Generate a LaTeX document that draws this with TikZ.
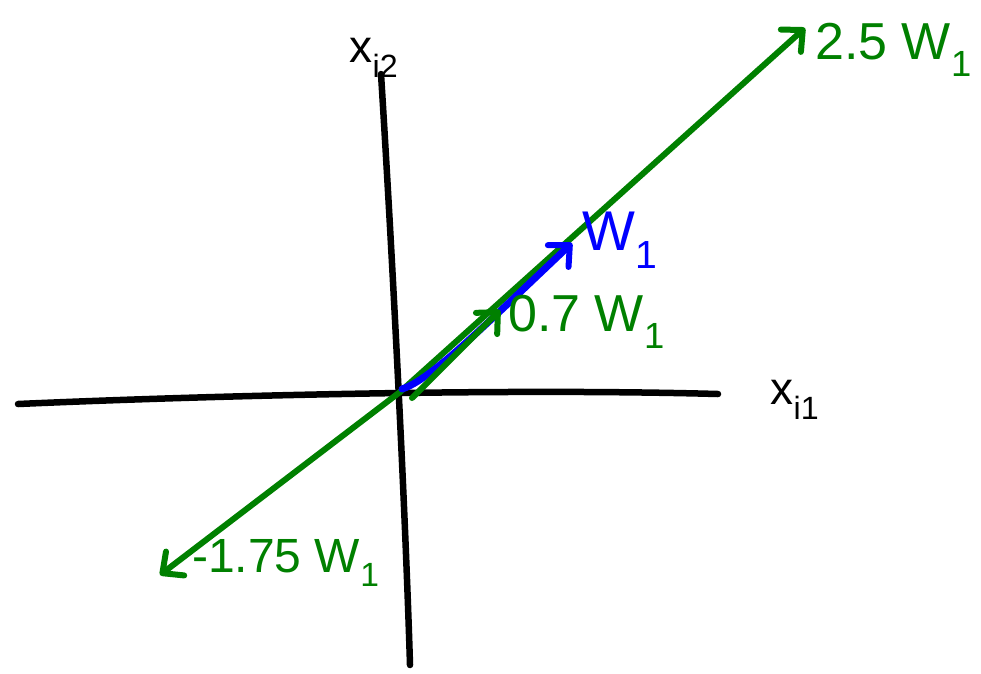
\documentclass[tikz,border=0pt]{standalone}
\usepackage{fontspec}
\setmainfont{Liberation Sans}
\usetikzlibrary{arrows.meta}
\definecolor{pgreen}{RGB}{0,128,0}
\definecolor{pblue}{RGB}{0,0,255}
\begin{document}
\begin{tikzpicture}[x=1pt,y=-1pt,
  axis/.style={line width=6.5pt,line cap=round,black},
  gvec/.style={line width=6pt,line cap=round,pgreen},
  bvec/.style={line width=7pt,line cap=round,pblue},
  tip/.style={-{Straight Barb[length=16pt,width=30pt,line width=6pt,round]}},
  glab/.style={text=pgreen,font=\fontsize{52}{52}\selectfont,inner sep=0pt},
  blab/.style={text=pblue,font=\fontsize{56}{56}\selectfont,inner sep=0pt},
  klab/.style={text=black,font=\fontsize{46}{46}\selectfont,inner sep=0pt}]
\useasboundingbox (0,0) rectangle (981,673);
% coordinates
\coordinate (O) at (400,392);
\coordinate (hl) at (18,404);
\coordinate (hr) at (718,394);
\coordinate (vt) at (381,74);
\coordinate (vb) at (410,665);
\coordinate (gtop) at (805,28);
\coordinate (gbot) at (160,575);
\coordinate (btip) at (572,243);
\coordinate (bstart) at (402,389);
\coordinate (s7) at (412,398);
\coordinate (t7) at (500,310);
% axes
\draw[axis] (hl) .. controls (200,396) and (500,388) .. (hr);
\draw[axis] (vt) .. controls (392,250) and (405,500) .. (vb);
% long green line
\draw[gvec,tip] (O) -- (gtop);
\draw[gvec,tip] (O) -- (gbot);
% blue vector
\draw[bvec,tip] (bstart) .. controls (430,380) and (480,330) .. (btip);
% 0.7 vector
\draw[gvec,tip] (s7) -- (t7);
% labels
\node[klab] (lx2) at (374,58) {x\textsubscript{i2}};
\node[klab] (lx1) at (795,400) {x\textsubscript{i1}};
\node[glab,anchor=west] (l25) at (815,50) {2.5 W\textsubscript{1}};
\node[blab,anchor=west] (lw) at (582,240) {W\textsubscript{1}};
\node[glab,anchor=west] (l07) at (508,322) {0.7 W\textsubscript{1}};
\node[glab,anchor=west,font=\fontsize{48}{48}\selectfont] (l175) at (192,563) {-1.75 W\textsubscript{1}};
\end{tikzpicture}
\end{document}
